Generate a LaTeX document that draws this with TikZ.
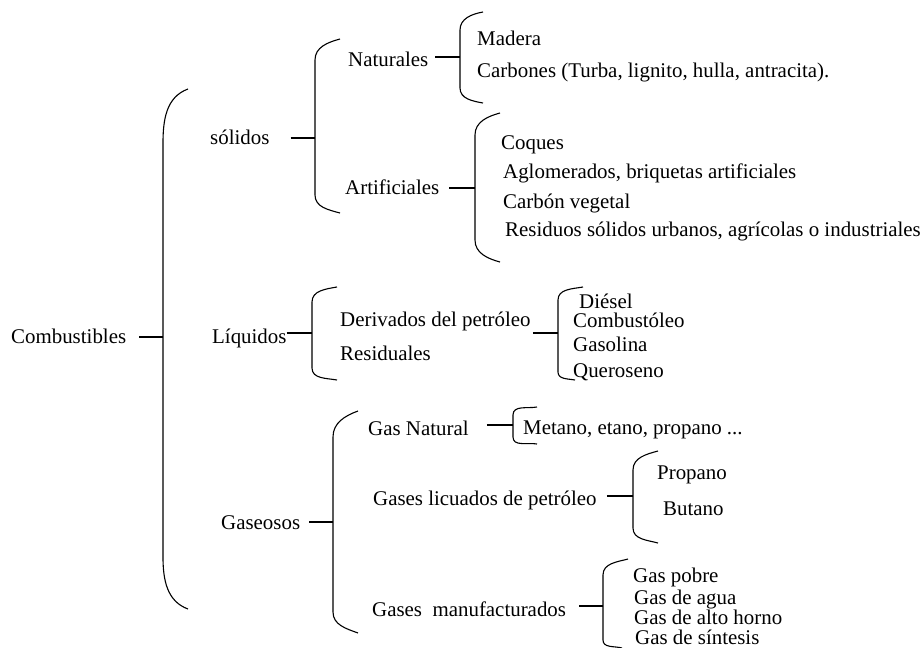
\documentclass[tikz,border=0pt]{standalone}
\usepackage{fontspec}
\setmainfont{Liberation Serif}
\begin{document}
\begin{tikzpicture}[
    x=1pt, y=-1pt,
    txt/.style={anchor=west, inner sep=0pt, yshift=-1.5pt, text height=0.7em, text depth=0.2em, font=\fontsize{20.9pt}{24pt}\selectfont},
    llave/.style={draw=black, line width=1.1pt},
    tick/.style={draw=black, line width=1.4pt}
]
\useasboundingbox (0,0) rectangle (922,648);
% nivel 1
\node[txt] (comb) at (11,339) {Combustibles};
\node[txt] (sol) at (210,140) {sólidos};
\node[txt] (liq) at (212,339) {Líquidos};
\node[txt] (gas) at (221,525) {Gaseosos};
% sólidos
\node[txt] (nat) at (348,62) {Naturales};
\node[txt] (art) at (345,190) {Artificiales};
\node[txt] (mad) at (477,41) {Madera};
\node[txt] (carb) at (477,73) {Carbones (Turba, lignito, hulla, antracita).};
\node[txt] (coq) at (501,145) {Coques};
\node[txt] (aglo) at (503,174) {Aglomerados, briquetas artificiales};
\node[txt] (veg) at (503,204) {Carbón vegetal};
\node[txt] (resi) at (505,232) {Residuos sólidos urbanos, agrícolas o industriales};
% líquidos
\node[txt] (deri) at (340,322) {Derivados del petróleo};
\node[txt] (resd) at (340,356) {Residuales};
\node[txt] (dies) at (579,304) {Diésel};
\node[txt] (fuel) at (573,323) {Combustóleo};
\node[txt] (gasl) at (573,347) {Gasolina};
\node[txt] (quer) at (573,373) {Queroseno};
% gaseosos
\node[txt] (gnat) at (368,431) {Gas Natural};
\node[txt] (meta) at (523,430) {Metano, etano, propano ...};
\node[txt] (glp) at (373,501) {Gases licuados de petróleo};
\node[txt] (prop) at (657,475) {Propano};
\node[txt] (but) at (663,511) {Butano};
\node[txt] (gman) at (372,612) {Gases\ \ manufacturados};
\node[txt] (gpob) at (633,578) {Gas pobre};
\node[txt] (gagu) at (634,600) {Gas de agua};
\node[txt] (galt) at (634,620) {Gas de alto horno};
\node[txt] (gsin) at (635,640) {Gas de síntesis};
% llaves
\draw[llave] (188,89) to[out=200,in=90] (163,143) -- (163,557) to[out=-90,in=160] (188,609);
\draw[llave] (340,39) to[out=195,in=90] (315,60) -- (315,195) to[out=-90,in=165] (340,213);
\draw[llave] (483,12) to[out=190,in=90] (460,30) -- (460,88) to[out=-90,in=170] (483,103);
\draw[llave] (500,113) to[out=195,in=90] (475,135) -- (475,240) to[out=-90,in=165] (500,262);
\draw[llave] (337,287) to[out=190,in=90] (312,302) -- (312,368) to[out=-90,in=170] (337,380);
\draw[llave] (583,287) to[out=190,in=90] (558,300) -- (558,372) to[out=-90,in=170] (575,380);
\draw[llave] (358,411) to[out=200,in=90] (333,437) -- (333,612) to[out=-90,in=160] (358,633);
\draw[llave] (537,407) to[out=190,in=90] (513,415) -- (513,437) to[out=-90,in=170] (537,444);
\draw[llave] (658,451) to[out=195,in=90] (633,470) -- (633,528) to[out=-90,in=165] (658,543);
\draw[llave] (628,559) to[out=195,in=90] (603,575) -- (603,640) to[out=-90,in=165] (622,648);
\coordinate (b0) at (163,337);
\coordinate (b1) at (315,138);
\coordinate (b2) at (460,57);
\coordinate (b3) at (475,188);
\coordinate (b4) at (312,333);
\coordinate (b5) at (558,333);
\coordinate (b6) at (333,522);
\coordinate (b7) at (513,425);
\coordinate (b8) at (633,496);
\coordinate (b9) at (603,606);
% uniones
\draw[tick, shorten <=13pt] (b0 -| comb.east) -- (b0);
\draw[tick, shorten <=21pt] (b1 -| sol.east) -- (b1);
\draw[tick, shorten <=7pt] (b2 -| nat.east) -- (b2);
\draw[tick, shorten <=10pt] (b3 -| art.east) -- (b3);
\draw[tick] (b4 -| liq.east) -- (b4);
\draw[tick, shorten <=2pt] (b5 -| deri.east) -- (b5);
\draw[tick, shorten <=9pt] (b6 -| gas.east) -- (b6);
\draw[tick, shorten <=18pt] (b7 -| gnat.east) -- (b7);
\draw[tick, shorten <=10pt] (b8 -| glp.east) -- (b8);
\draw[tick, shorten <=13pt] (b9 -| gman.east) -- (b9);
\end{tikzpicture}
\end{document}
